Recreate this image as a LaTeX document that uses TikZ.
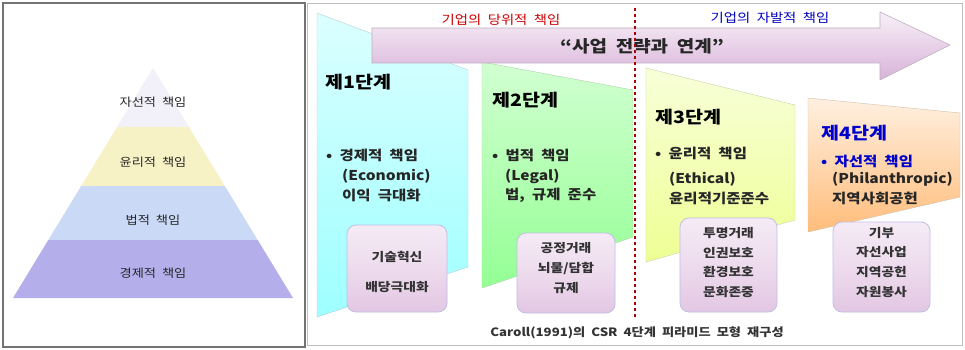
\documentclass[tikz,border=0pt]{standalone}
\usepackage{fontspec}
\setmainfont[FakeStretch=1.15,WordSpace=2]{Noto Sans CJK KR}
\definecolor{pyrA}{RGB}{242,240,248}
\definecolor{pyrB}{RGB}{247,242,198}
\definecolor{pyrC}{RGB}{201,217,246}
\definecolor{pyrD}{RGB}{180,174,234}
\begin{document}
\begin{tikzpicture}[x=1pt,y=-1pt,
  lbl/.style={inner sep=0pt,font=\fontsize{11.5}{13}\selectfont,text=black!85},
  stagehead/.style={anchor=west,inner sep=0pt,font=\bfseries\fontsize{17}{20}\selectfont},
  stagebody/.style={anchor=west,inner sep=0pt,font=\bfseries\fontsize{13.5}{16}\selectfont,text=black!85},
  infobox/.style={draw=black!40!blue!25!white,line width=0.8pt,rounded corners=9pt,top color=white!92!violet,bottom color=violet!22!white,middle color=violet!14!white,inner sep=0pt},
  boxtxt/.style={inner sep=0pt,font=\bfseries\fontsize{12}{14}\selectfont,text=black!80}
]
\useasboundingbox (0,0) rectangle (965,350);
\fill[white] (0,0) rectangle (965,350);
% frames
\draw[black!55,line width=1.4pt] (3,3) rectangle (305,347);
\draw[black!25,line width=0.8pt] (307,3) rectangle (962,345);
% pyramid
\fill[pyrA] (153,68) -- (188.9,127) -- (117.1,127) -- cycle;
\fill[pyrB] (117.1,127) -- (188.9,127) -- (224.8,186) -- (81.2,186) -- cycle;
\fill[pyrC] (81.2,186) -- (224.8,186) -- (257.7,240) -- (48.3,240) -- cycle;
\fill[pyrD] (48.3,240) -- (257.7,240) -- (293,298) -- (13,298) -- cycle;
\node[lbl] (p4) at (153,102) {자선적 책임};
\node[lbl] (p3) at (153,162) {윤리적 책임};
\node[lbl] (p2) at (153,220) {법적 책임};
\node[lbl] (p1) at (153,273) {경제적 책임};
% stage shapes
\shade[top color=cyan!14!white,bottom color=cyan!38!white,draw=cyan!30!gray!50] (317,13) -- (468,70) -- (468,267) -- (317,317) -- cycle;
\shade[top color=green!18!white,bottom color=green!42!white,draw=green!30!gray!50] (482,62) -- (633,90) -- (633,237) -- (482,288) -- cycle;
\shade[top color=yellow!20!lime!15!white,bottom color=yellow!40!lime!42!white,draw=lime!30!gray!50] (646,68) -- (795,105) -- (795,220) -- (646,262) -- cycle;
\shade[top color=orange!12!white,bottom color=orange!52!white,draw=orange!30!gray!50] (808,98) -- (960,113) -- (960,197) -- (808,232) -- cycle;
% big arrow
\shade[top color=violet!6!white,bottom color=violet!30!white,draw=violet!25!gray!50,line width=0.6pt] (372,28) -- (880,28) -- (880,12) -- (950,45) -- (880,80) -- (880,63) -- (372,63) -- cycle;
\node[inner sep=0pt,font=\bfseries\fontsize{16.5}{18}\selectfont,text=black!85] (slogan) at (642,46) {“사업 전략과 연계”};
% top labels
\node[inner sep=0pt,font=\fontsize{12.5}{14}\selectfont,text=red!80!black] (must) at (501,20) {기업의 당위적 책임};
\node[inner sep=0pt,font=\fontsize{12.5}{14}\selectfont,text=blue!75!black] (vol) at (770,18) {기업의 자발적 책임};
% divider
\coordinate (dtop) at (635,8);
\coordinate (dbot) at (635,318);
\draw[red!70!black,dashed,line width=1.1pt] (dtop) -- (dbot);
% stage 1
\node[stagehead] (h1) at (325,82) {제1단계};
\node[stagebody] (s1a) at (326,155) {• 경제적 책임};
\node[stagebody] (s1b) at (342,176) {(Economic)};
\node[stagebody] (s1c) at (342,195) {이익 극대화};
\node[infobox,minimum width=100pt,minimum height=87pt] (b1) at (397,268.5) {};
\node[boxtxt] (b1a) at (397,257) {기술혁신};
\node[boxtxt] (b1b) at (397,287) {배당극대화};
% stage 2
\node[stagehead] (h2) at (492,100) {제2단계};
\node[stagebody] (s2a) at (492,155) {• 법적 책임};
\node[stagebody] (s2b) at (505,176) {(Legal)};
\node[stagebody] (s2c) at (505,195) {법, 규제 준수};
\node[infobox,minimum width=98pt,minimum height=80pt] (b2) at (566,273) {};
\node[boxtxt] (b2a) at (566,248) {공정거래};
\node[boxtxt] (b2b) at (566,268) {뇌물/담합};
\node[boxtxt] (b2c) at (566,288) {규제};
% stage 3
\node[stagehead] (h3) at (655,117) {제3단계};
\node[stagebody] (s3a) at (655,153) {• 윤리적 책임};
\node[stagebody] (s3b) at (669,179) {(Ethical)};
\node[stagebody] (s3c) at (669,198) {윤리적기준준수};
\node[infobox,minimum width=97pt,minimum height=94pt] (b3) at (728.5,265) {};
\node[boxtxt] (b3a) at (728.5,233) {투명거래};
\node[boxtxt] (b3b) at (728.5,252.5) {인권보호};
\node[boxtxt] (b3c) at (728.5,272) {환경보호};
\node[boxtxt] (b3d) at (728.5,292) {문화존중};
% stage 4
\node[stagehead,text=blue!80!black] (h4) at (821,133) {제4단계};
\node[stagebody,text=blue!80!black] (s4a) at (821,161) {• 자선적 책임};
\node[stagebody] (s4b) at (832,179) {(Philanthropic)};
\node[stagebody] (s4c) at (832,198) {지역사회공헌};
\node[infobox,minimum width=97pt,minimum height=90pt] (b4) at (881.5,267) {};
\node[boxtxt] (b4a) at (881.5,233) {기부};
\node[boxtxt] (b4b) at (881.5,252.5) {자선사업};
\node[boxtxt] (b4c) at (881.5,272) {지역공헌};
\node[boxtxt] (b4d) at (881.5,292) {자원봉사};
% caption
\node[inner sep=0pt,font=\bfseries\fontsize{11.5}{13}\selectfont,text=black!80] (cap) at (637,333) {Caroll(1991)의 CSR 4단계 피라미드 모형 재구성};
\end{tikzpicture}
\end{document}
